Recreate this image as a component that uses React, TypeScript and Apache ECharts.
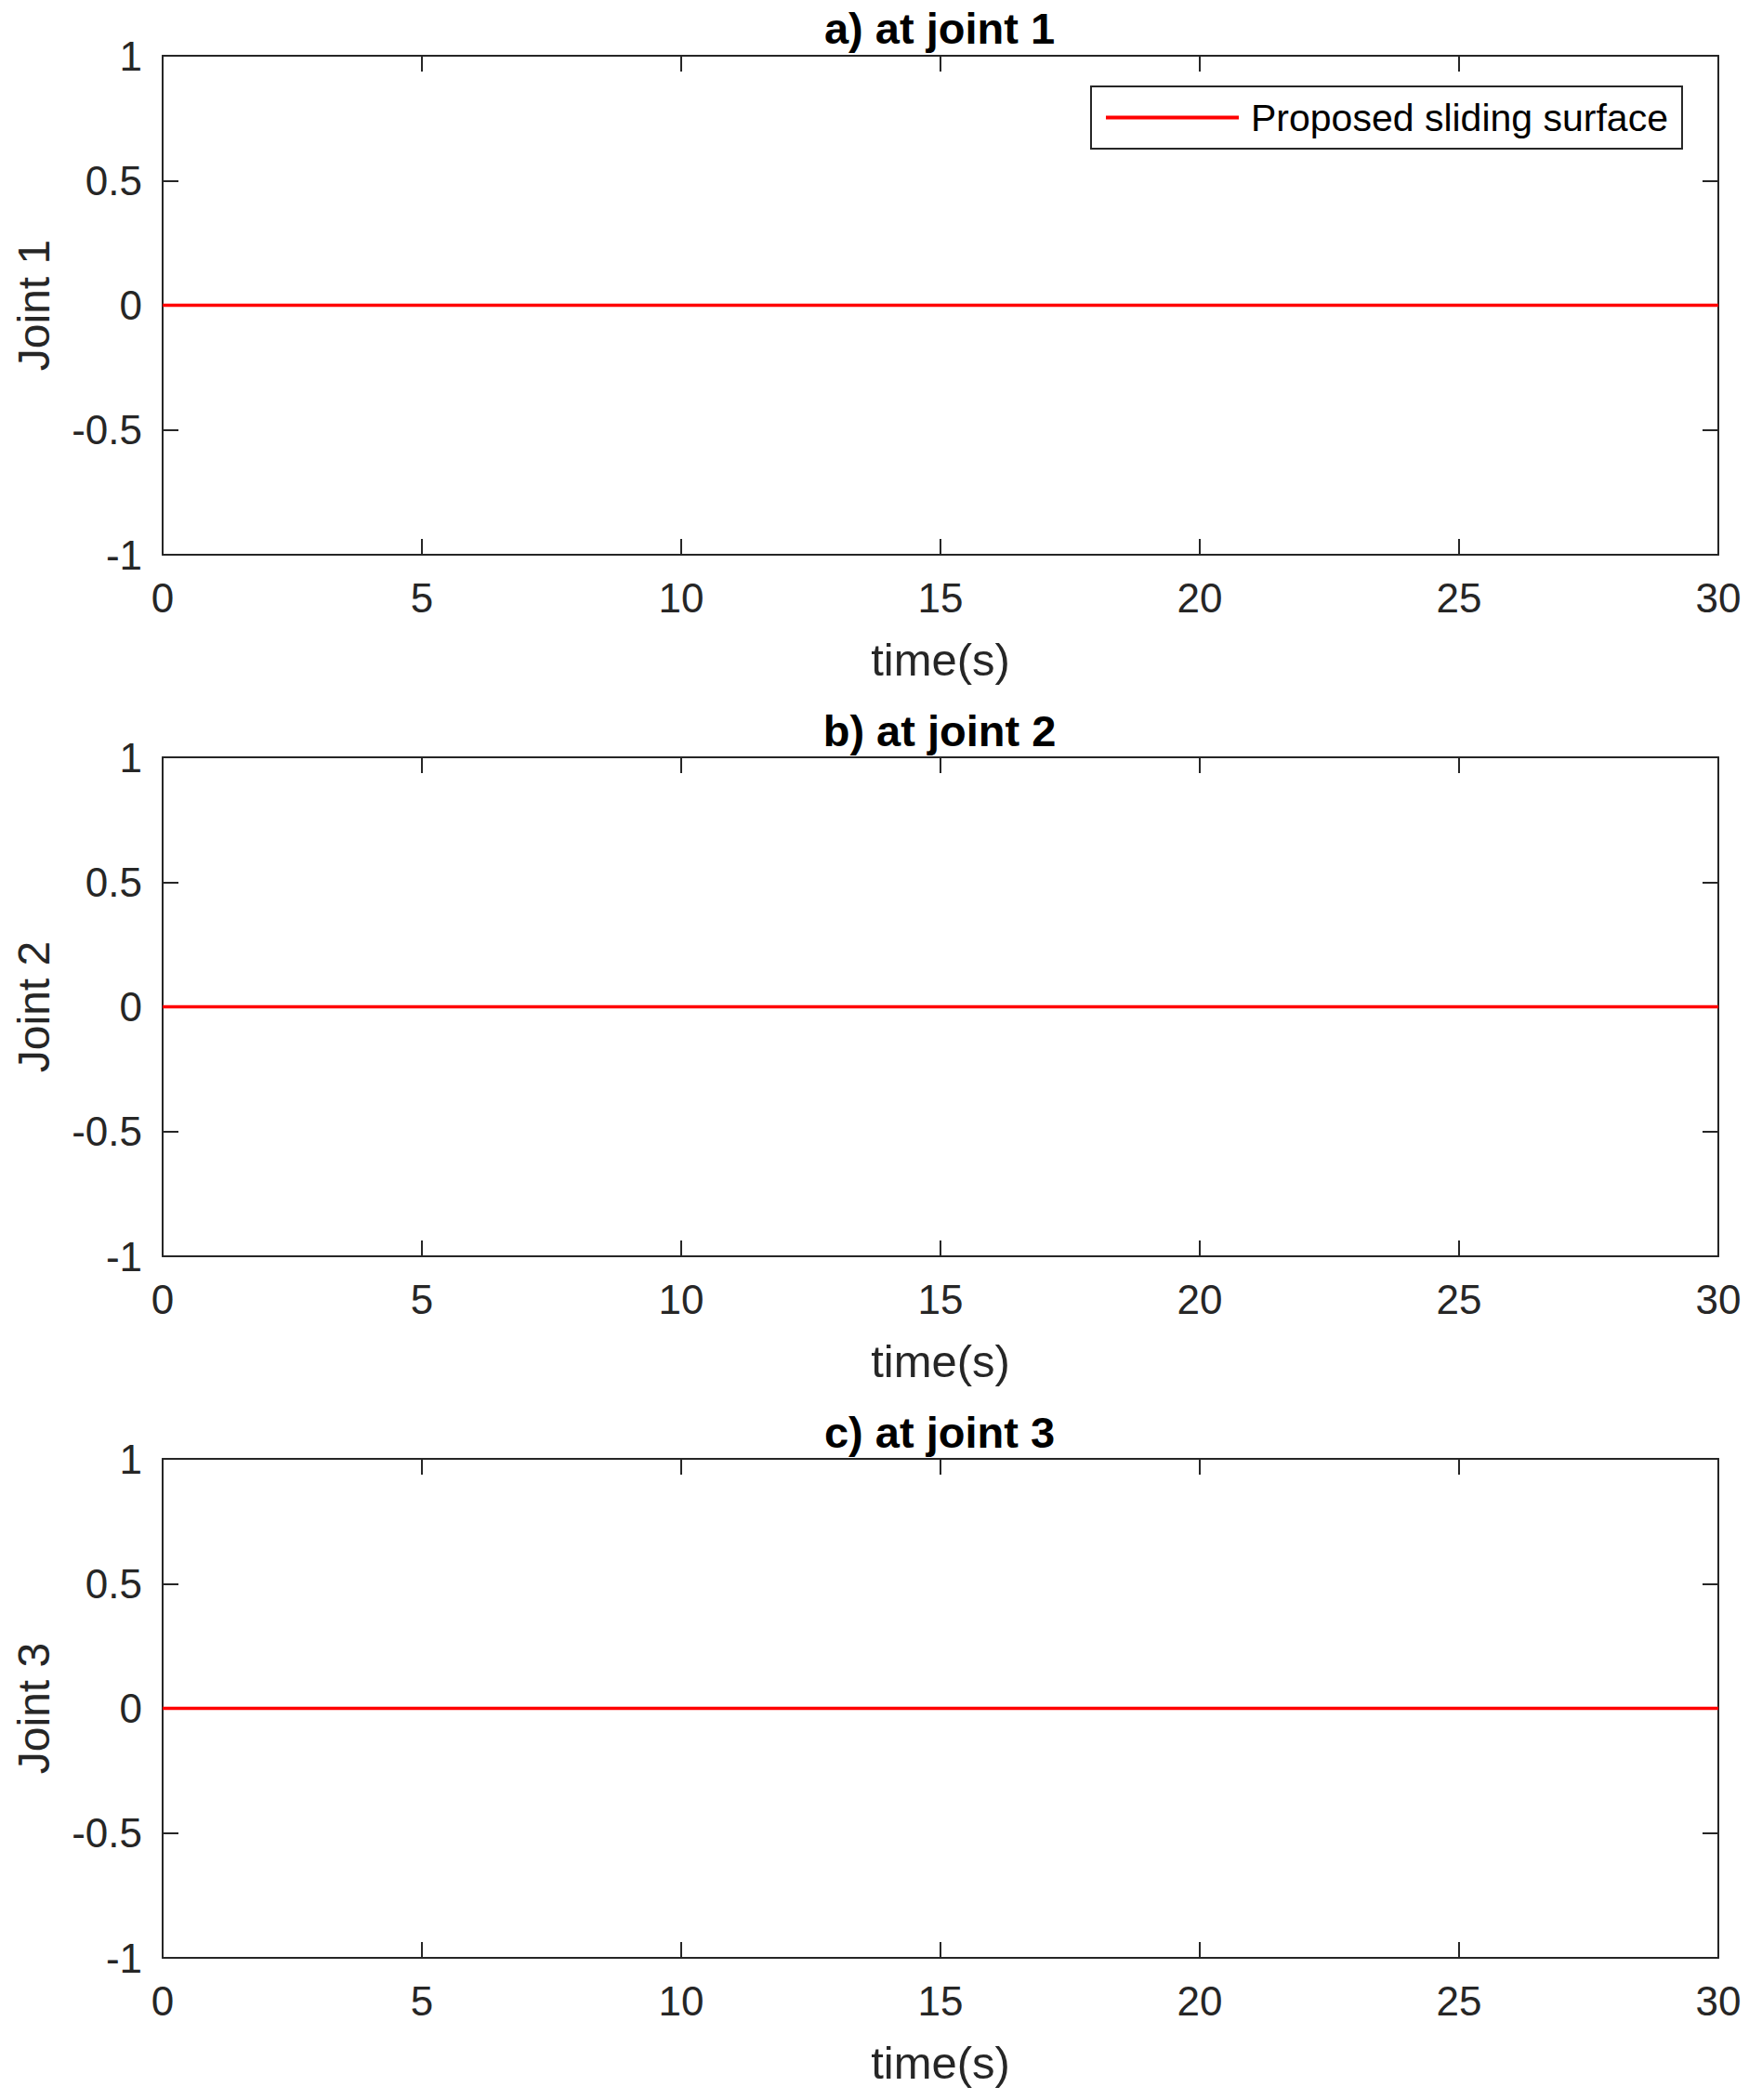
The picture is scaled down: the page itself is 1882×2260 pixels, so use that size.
import React, { useEffect, useRef } from "react";
import * as echarts from "echarts";

const timePoints = [0, 5, 10, 15, 20, 25, 30];
const joint1Values = [0, 0, 0, 0, 0, 0, 0];
const joint2Values = [0, 0, 0, 0, 0, 0, 0];
const joint3Values = [0, 0, 0, 0, 0, 0, 0];
const panelTitles = ["a) at joint 1", "b) at joint 2", "c) at joint 3"];
const yNames = ["Joint 1", "Joint 2", "Joint 3"];
const xName = "time(s)";
const seriesName = "Proposed sliding surface";

const FONT = "Liberation Sans, Arial, Helvetica, sans-serif";
const AX = "#262626";

export default function App() {
  const ref = useRef<HTMLDivElement>(null);
  useEffect(() => {
    if (!ref.current) return;
    const chart = echarts.init(ref.current, undefined, { renderer: "svg" });
    const tops = [60, 815, 1570];
    const gridH = 537;
    const left = 175;
    const right = 33;
    const allValues = [joint1Values, joint2Values, joint3Values];

    const grids = tops.map((t) => ({ left, right, top: t, height: gridH, containLabel: false }));
    const xAxes: any[] = [];
    const yAxes: any[] = [];
    tops.forEach((_, i) => {
      xAxes.push({
        type: "value", gridIndex: i, min: 0, max: 30, interval: 5,
        position: "bottom",
        name: xName, nameLocation: "middle", nameGap: 88,
        nameTextStyle: { fontFamily: FONT, fontSize: 49, color: AX },
        axisLine: { show: true, onZero: false, lineStyle: { color: AX, width: 2 } },
        axisTick: { show: true, inside: true, length: 17, lineStyle: { color: AX, width: 2 } },
        axisLabel: { show: true, margin: 24, fontFamily: FONT, fontSize: 44, color: AX },
        splitLine: { show: false },
      });
      xAxes.push({
        type: "value", gridIndex: i, min: 0, max: 30, interval: 5,
        position: "top",
        axisLine: { show: true, onZero: false, lineStyle: { color: AX, width: 2 } },
        axisTick: { show: true, inside: true, length: 17, lineStyle: { color: AX, width: 2 } },
        axisLabel: { show: false },
        splitLine: { show: false },
      });
      yAxes.push({
        type: "value", gridIndex: i, min: -1, max: 1, interval: 0.5,
        position: "left",
        name: yNames[i], nameLocation: "middle", nameGap: 115, nameRotate: 90,
        nameTextStyle: { fontFamily: FONT, fontSize: 48, color: AX },
        axisLine: { show: true, onZero: false, lineStyle: { color: AX, width: 2 } },
        axisTick: { show: true, inside: true, length: 17, lineStyle: { color: AX, width: 2 } },
        axisLabel: { show: true, margin: 22, fontFamily: FONT, fontSize: 44, color: AX },
        splitLine: { show: false },
      });
      yAxes.push({
        type: "value", gridIndex: i, min: -1, max: 1, interval: 0.5,
        position: "right",
        axisLine: { show: true, onZero: false, lineStyle: { color: AX, width: 2 } },
        axisTick: { show: true, inside: true, length: 17, lineStyle: { color: AX, width: 2 } },
        axisLabel: { show: false },
        splitLine: { show: false },
      });
    });

    const series = allValues.map((vals, i) => ({
      name: seriesName,
      type: "line",
      xAxisIndex: i * 2,
      yAxisIndex: i * 2,
      data: timePoints.map((t, k) => [t, vals[k]]),
      symbol: "none",
      lineStyle: { color: "#ff0000", width: 3.5 },
      itemStyle: { color: "#ff0000" },
      z: 5,
    }));

    const titleCenters = [30, 786, 1541];
    const graphic = panelTitles.map((txt, i) => ({
      type: "text",
      x: 1011,
      y: titleCenters[i],
      style: {
        text: txt,
        fontFamily: FONT,
        fontSize: 47,
        fontWeight: "bold",
        fill: "#000",
        textAlign: "center",
        textVerticalAlign: "middle",
      },
    }));

    chart.setOption({
      animation: false,
      backgroundColor: "#ffffff",
      grid: grids,
      xAxis: xAxes,
      yAxis: yAxes,
      series,
      legend: {
        data: [seriesName],
        left: 1174,
        top: 93,
        orient: "horizontal",
        icon: "rect",
        itemWidth: 143,
        itemHeight: 4,
        itemGap: 14,
        padding: [13, 15, 13, 16],
        borderColor: AX,
        borderWidth: 2,
        backgroundColor: "#ffffff",
        textStyle: { fontFamily: FONT, fontSize: 41, color: "#000", padding: [0, 0, 0, 8] },
      },
      graphic,
    });
    return () => chart.dispose();
  }, []);
  return (
    <div
      ref={ref}
      style={{ position: "absolute", left: 0, top: 0, width: 1882, height: 2260, background: "#fff" }}
    />
  );
}
